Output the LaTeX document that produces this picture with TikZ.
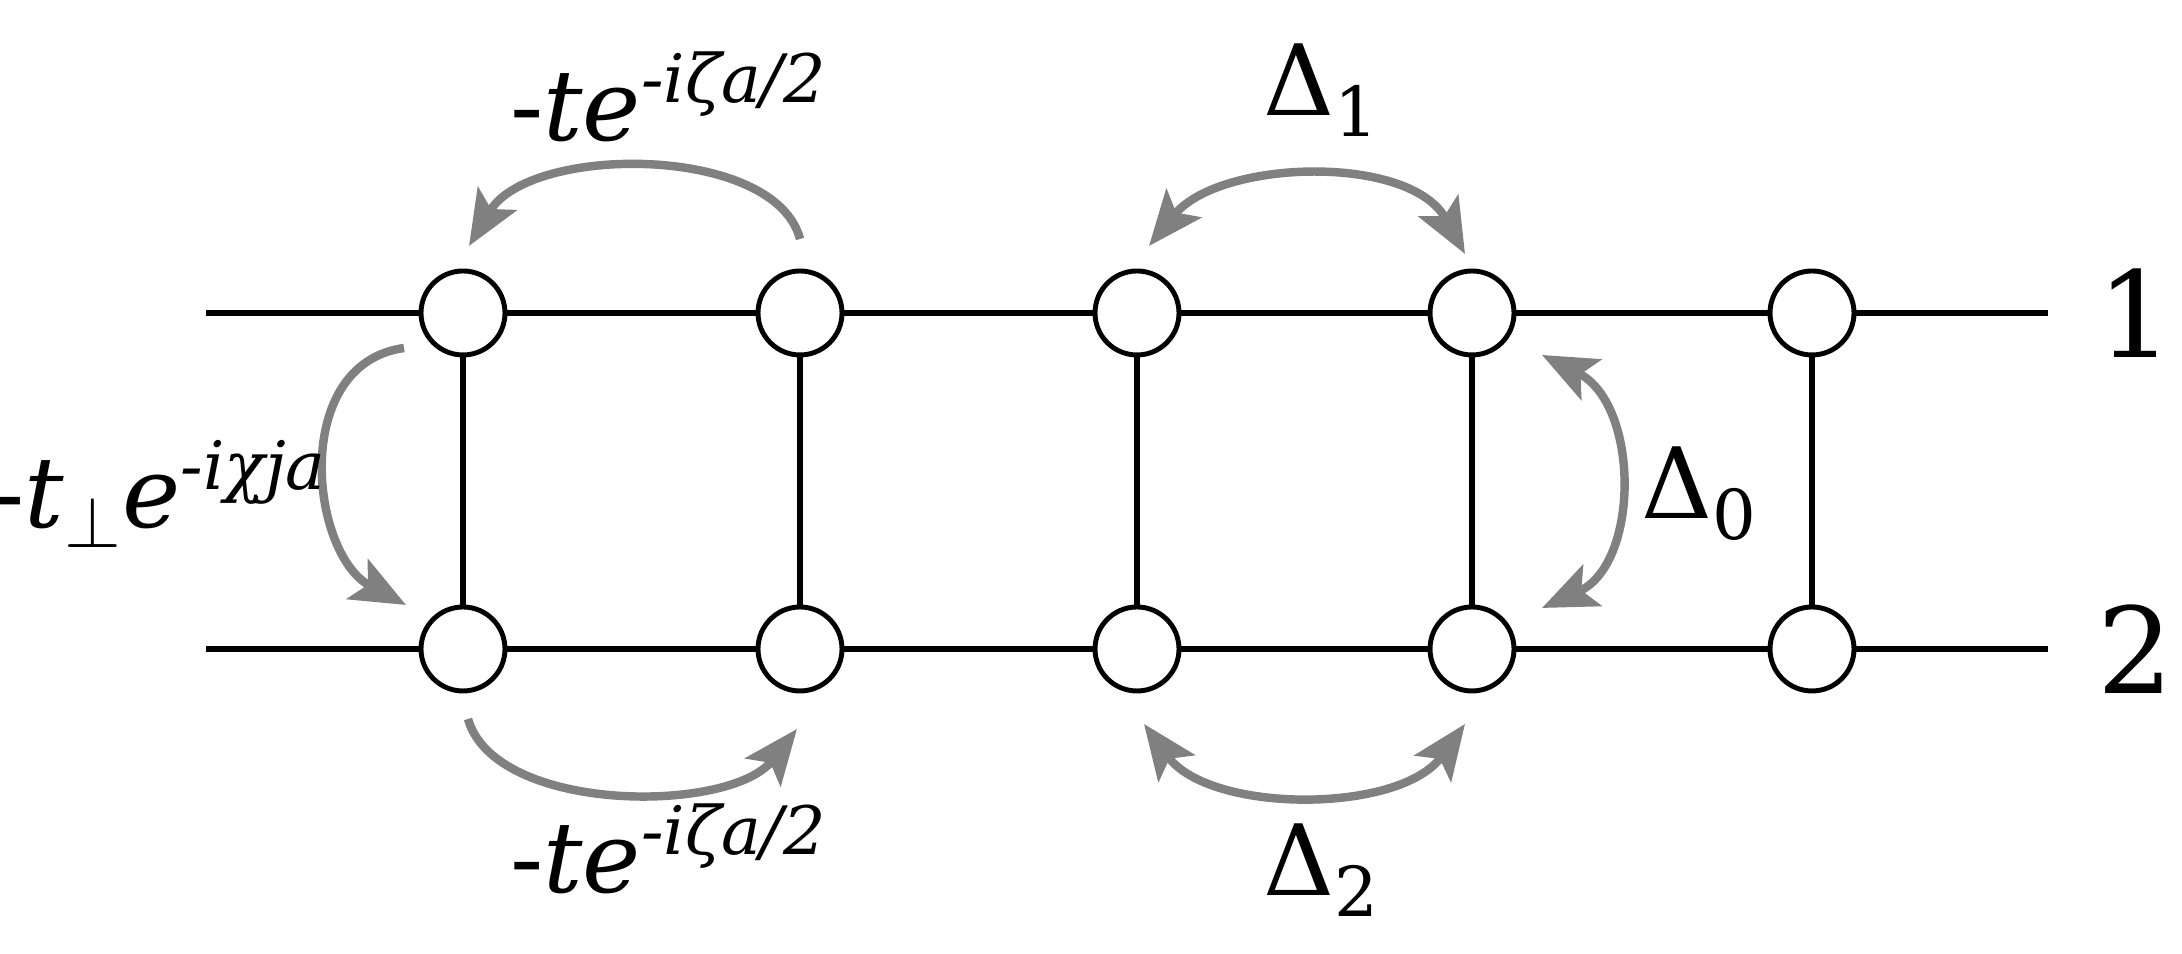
\documentclass[tikz,border=0pt]{standalone}
\usepackage{fontspec}
\setmainfont{DejaVu Serif}
\newfontfamily\tms{DejaVu Serif}
\usetikzlibrary{arrows.meta}
\newcommand{\supit}[1]{\raisebox{0.75ex}{\fontsize{19}{21}\selectfont\itshape #1}}
\begin{document}
\begin{tikzpicture}
[site/.style={draw,circle,fill=white,line width=1.4pt,minimum size=0.84cm,inner sep=0pt},
 leg/.style={line width=1.5pt},
 hop/.style={line width=2.4pt,draw=gray,-{Stealth[length=0.55cm,width=0.45cm,inset=0.12cm]}},
 hops/.style={hop,{Stealth[length=0.55cm,width=0.45cm,inset=0.12cm]}-{Stealth[length=0.55cm,width=0.45cm,inset=0.12cm]}},
 lab/.style={font=\tms\fontsize{28}{32}\selectfont}]
\useasboundingbox (0,0) rectangle (21.82,9.54);
\coordinate (L1) at (2.06,6.41);
\coordinate (R1) at (20.48,6.41);
\coordinate (L2) at (2.06,3.05);
\coordinate (R2) at (20.48,3.05);
\draw [leg] (L1) -- (R1);
\draw [leg] (L2) -- (R2);
\foreach \x [count=\i] in {4.63,8.00,11.37,14.72,18.12} {
  \draw [leg] (\x,6.41) -- (\x,3.05);
  \node [site] at (\x,6.41) (a\i) {};
  \node [site] at (\x,3.05) (b\i) {};
}
\node [lab,anchor=west,font=\tms\fontsize{34}{38}\selectfont] at (20.85,6.41) (n1) {1};
\node [lab,anchor=west,font=\tms\fontsize{34}{38}\selectfont] at (20.85,3.05) (n2) {2};

% hopping arrows
\draw [hop] (8.0,7.15) .. controls (7.75,8.1) and (5.3,8.1) .. (4.69,7.08);
\draw [hops] (11.49,7.08) .. controls (12.2,7.95) and (14.1,8.0) .. (14.65,7.0);
\draw [hop] (4.68,2.35) .. controls (4.95,1.4) and (7.3,1.4) .. (7.97,2.25);
\draw [hops] (11.44,2.3) .. controls (12.1,1.4) and (14.0,1.4) .. (14.65,2.3);
\draw [hop] (4.04,6.06) .. controls (2.9,5.9) and (3.1,4.0) .. (4.06,3.49);
\draw [hops] (15.42,5.99) .. controls (16.4,5.5) and (16.4,3.9) .. (15.42,3.46);

% labels
\node [lab] at (6.68,8.57) (tt) {-\textit{te}\supit{-iζa/2}};
\node [lab] at (6.68,1.05) (tb) {-\textit{te}\supit{-iζa/2}};
\node [lab] at (13.22,8.64) (d1) {Δ\textsubscript{1}};
\node [lab] at (13.22,0.84) (d2) {Δ\textsubscript{2}};
\node [lab] at (17.0,4.6) (d0) {Δ\textsubscript{0}};
\node [lab,anchor=east,inner sep=1pt] at (3.3,4.6) (tp) {-\textit{t}\textsubscript{$\perp$}\textit{e}\supit{-iχja}};
\end{tikzpicture}
\end{document}
